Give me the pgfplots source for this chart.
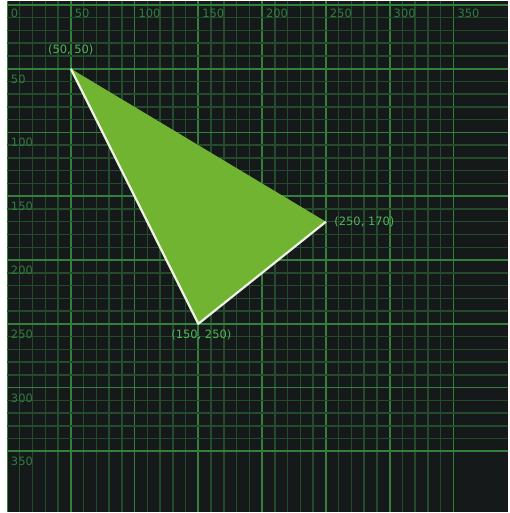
\documentclass[border=0pt]{standalone}
\usepackage{pgfplots}
\pgfplotsset{compat=1.18}
\usepackage{fontspec}
\setmainfont{DejaVu Sans}
\definecolor{bg}{RGB}{21,25,26}
\definecolor{majgrid}{RGB}{50,128,58}
\definecolor{mingrid}{RGB}{36,76,44}
\definecolor{tickcol}{RGB}{48,125,62}
\definecolor{labcol}{RGB}{80,180,90}
\definecolor{tri}{RGB}{112,180,50}
\definecolor{edge}{RGB}{240,242,228}
\begin{document}
\begin{tikzpicture}
\begin{axis}[
  x=1.28bp, y=1.28bp,
  y dir=reverse,
  xmin=0, xmax=393, ymin=-3.1, ymax=397.6,
  axis background/.style={fill=bg},
  axis line style={draw=none},
  xtick={0,50,...,350}, ytick={0,50,...,350},
  yticklabels={,50,100,150,200,250,300,350},
  minor x tick num=4, minor y tick num=4,
  major tick length=0pt, minor tick length=0pt,
  grid=both,
  major grid style={draw=majgrid, line width=1.8bp},
  minor grid style={draw=mingrid, line width=1.5bp},
  xticklabel pos=upper, yticklabel pos=left,
  xticklabel style={anchor=north west, xshift=0.5bp, yshift=-4.5bp, text=tickcol, font=\fontsize{11.5bp}{12bp}\selectfont},
  yticklabel style={anchor=north west, xshift=0.5bp, yshift=-2.5bp, text=tickcol, font=\fontsize{11.5bp}{12bp}\selectfont},
  /pgf/number format/assume math mode=true,
  clip=false,
]
\addplot[fill=tri, draw=none] coordinates {(50,50) (250,170) (150,250)} -- cycle;
\addplot[draw=edge, line width=2.2bp, line join=round, no marks] coordinates {(50,50) (150,250) (250,170)};
\node[text=labcol, font=\fontsize{11.5bp}{12bp}\selectfont, anchor=south] at (axis cs:50,50) [yshift=10bp] {(50, 50)};
\node[text=labcol, font=\fontsize{11.5bp}{12bp}\selectfont, anchor=west] at (axis cs:250,170) [xshift=5bp] {(250, 170)};
\node[text=labcol, font=\fontsize{11.5bp}{12bp}\selectfont, anchor=north] at (axis cs:150,250) [xshift=3bp, yshift=-3bp] {(150, 250)};
\end{axis}
\fill[white] ([xshift=-7bp]current axis.south west) rectangle (current axis.north west);
\end{tikzpicture}
\end{document}
